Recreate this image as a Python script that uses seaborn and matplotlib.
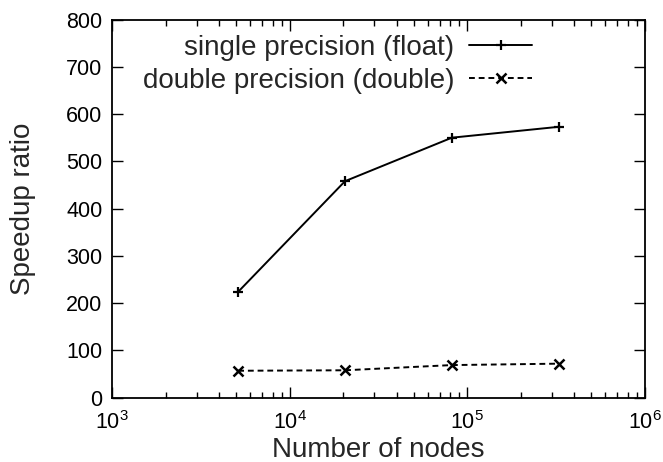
import numpy as np
import matplotlib
matplotlib.use("Agg")
import matplotlib.pyplot as plt
import seaborn as sns
from matplotlib.ticker import LogLocator, MultipleLocator, NullFormatter

nodes = [5120, 20480, 81920, 327680]
single_speedup = [224, 458, 550, 573]
double_speedup = [57, 58, 69, 72]
labels = ["single precision (float)", "double precision (double)"]

sns.set_style("ticks")
plt.rcParams["font.family"] = ["Liberation Sans", "DejaVu Sans"]
plt.rcParams["mathtext.fontset"] = "custom"
plt.rcParams["mathtext.rm"] = "Liberation Sans"
plt.rcParams["mathtext.it"] = "Liberation Sans"

fig, ax = plt.subplots(figsize=(6.63, 4.62), dpi=100)
fig.subplots_adjust(left=112.3 / 663, right=644.7 / 663,
                    top=1 - 19.5 / 462, bottom=1 - 397.7 / 462)

sns.lineplot(x=nodes, y=single_speedup, ax=ax, color="black", lw=1.4,
             marker="+", markersize=7.5, markeredgewidth=1.6,
             markeredgecolor="black", label=labels[0])
sns.lineplot(x=nodes, y=double_speedup, ax=ax, color="black", lw=1.4,
             linestyle=(0, (3, 2)), marker="x", markersize=7,
             markeredgewidth=1.8, markeredgecolor="black", label=labels[1])

ax.set_xscale("log")
ax.set_xlim(1e3, 1e6)
ax.set_ylim(0, 800)
ax.yaxis.set_major_locator(MultipleLocator(100))
ax.xaxis.set_major_locator(LogLocator(base=10, numticks=10))
ax.xaxis.set_minor_locator(LogLocator(base=10, subs=np.arange(2, 10), numticks=10))
ax.xaxis.set_minor_formatter(NullFormatter())

for s in ax.spines.values():
    s.set_visible(True)
    s.set_linewidth(1.3)
    s.set_color("black")

ax.tick_params(which="both", direction="in", top=True, right=True,
               colors="black", labelsize=15.5, width=1.0)
ax.tick_params(which="major", length=8, pad=7)
ax.tick_params(axis="x", which="major", pad=10)
ax.tick_params(which="minor", length=4)

ax.set_xlabel("Number of nodes", fontsize=20, labelpad=2)
ax.set_ylabel("Speedup ratio", fontsize=20, labelpad=22)

ax.legend(loc="upper right", bbox_to_anchor=(0.788, 0.959), frameon=False,
          markerfirst=False, fontsize=20, handlelength=2.25,
          handletextpad=0.55, labelspacing=0.25, borderpad=0, borderaxespad=0)

fig.savefig("out.png", dpi=100)
